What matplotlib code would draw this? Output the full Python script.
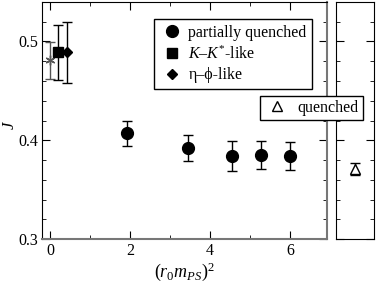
import matplotlib
matplotlib.use("Agg")
import matplotlib.pyplot as plt
from matplotlib.ticker import MultipleLocator
from matplotlib.lines import Line2D

plt.rcParams['font.family'] = ['Liberation Serif', 'DejaVu Serif']
plt.rcParams['mathtext.fontset'] = 'custom'
plt.rcParams['mathtext.rm'] = 'Liberation Serif'
plt.rcParams['mathtext.it'] = 'Liberation Serif:italic'

# data
pq_x = [1.92, 3.44, 4.54, 5.27, 6.0]
pq_y = [0.407, 0.392, 0.384, 0.385, 0.384]
pq_err = [0.0125, 0.0135, 0.015, 0.014, 0.0145]

star_x = [0.0]
star_y = [0.481]
star_err = [0.019]

kk_x = [0.2]
kk_y = [0.489]
kk_err = [0.028]

ep_x = [0.42]
ep_y = [0.489]
ep_err = [0.031]

q_y = [0.3705]
q_err = [0.006]

W, H = 376, 289
fig = plt.figure(figsize=(W/100, H/100), dpi=100)
ax = fig.add_axes([42/W, 1-239/H, (327-42)/W, (239-2)/H])
ax2 = fig.add_axes([336/W, 1-239/H, (374-336)/W, (239-2)/H])

ekw = dict(capsize=3.5, elinewidth=1.0, capthick=1.0, linestyle='none')
ax.errorbar(star_x, star_y, yerr=star_err, marker=(6, 2, 0), color='#555555', ms=7, mew=1.0, **ekw)
ax.errorbar(kk_x, kk_y, yerr=kk_err, marker='s', color='black', ms=6.5, **ekw)
ax.errorbar(ep_x, ep_y, yerr=ep_err, marker='D', color='black', ms=5.5, **ekw)
ax.errorbar(pq_x, pq_y, yerr=pq_err, marker='o', color='black', ms=8.5, **ekw)

ax.set_xlim(-0.2, 6.92)
ax.set_ylim(0.3, 0.54)
ax.xaxis.set_major_locator(MultipleLocator(2))
ax.xaxis.set_minor_locator(MultipleLocator(1))
ax.yaxis.set_major_locator(MultipleLocator(0.1))
ax.yaxis.set_minor_locator(MultipleLocator(0.02))
ax.tick_params(which='both', direction='in', top=True, right=True, labelsize=11.5)
ax.tick_params(which='major', length=6)
ax.tick_params(which='minor', length=3)
ax.tick_params(axis='x', pad=3)
ax.tick_params(axis='y', pad=3)
for s in ['bottom', 'right']:
    ax.spines[s].set_color('#777777')
    ax.spines[s].set_linewidth(1.5)
ax.set_xlabel(r'$(r_0 m_{PS})^2$', fontsize=13, labelpad=1)
ax.set_ylabel(r'$J$', fontsize=12)
ax.yaxis.set_label_coords(-0.085, 0.48)

handles = [
    Line2D([], [], marker='o', color='black', ls='none', ms=8.5),
    Line2D([], [], marker='s', color='black', ls='none', ms=6.5),
    Line2D([], [], marker='D', color='black', ls='none', ms=5.5),
]
labels = ['partially quenched', r'$K$' + '\u2013' + r'$K^{*}$' + '-like', '\u03b7\u2013\u03d5-like']
leg = ax.legend(handles, labels, loc='upper left', bbox_to_anchor=((154-42)/(327-42), 1-(19-2)/(239-2)),
                fontsize=11.5, frameon=True, fancybox=False, edgecolor='black', framealpha=1,
                handletextpad=0.3, labelspacing=0.3, borderpad=0.35, handlelength=1.5,
                borderaxespad=0)
leg.get_frame().set_linewidth(1.0)

ax2.errorbar([0], q_y, yerr=q_err, marker='^', mfc='white', mec='black', color='black', ms=7, **ekw)
ax2.set_xlim(-1, 1)
ax2.set_ylim(0.3, 0.54)
ax2.set_xticks([])
ax2.yaxis.set_major_locator(MultipleLocator(0.1))
ax2.yaxis.set_minor_locator(MultipleLocator(0.02))
ax2.tick_params(which='both', direction='in', left=True, right=True, labelleft=False)
ax2.tick_params(which='major', length=6)
ax2.tick_params(which='minor', length=3)

qh = [Line2D([], [], marker='^', mfc='white', mec='black', color='black', ls='none', ms=7)]
fleg = fig.legend(qh, ['quenched'], loc='upper left', bbox_to_anchor=(260/W, 1-96/H),
                  fontsize=11.5, frameon=True, fancybox=False, edgecolor='black', framealpha=1,
                  handletextpad=0.5, borderpad=0.25, handlelength=1.6, borderaxespad=0)
fleg.get_frame().set_linewidth(1.0)

fig.savefig('out.png', dpi=100)
